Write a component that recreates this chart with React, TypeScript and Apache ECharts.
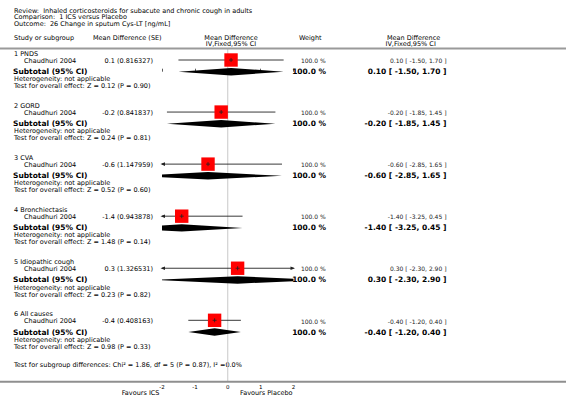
import React, { useEffect, useRef } from "react";
import * as echarts from "echarts";

// ---- data ----
const groups = ["1 PNDS", "2 GORD", "3 CVA", "4 Bronchiectasis", "5 Idiopathic cough", "6 All causes"];
const studies = ["Chaudhuri 2004", "Chaudhuri 2004", "Chaudhuri 2004", "Chaudhuri 2004", "Chaudhuri 2004", "Chaudhuri 2004"];
const meanDiff = [0.1, -0.2, -0.6, -1.4, 0.3, -0.4];
const seValues = ["0.816327", "0.841837", "1.147959", "0.943878", "1.326531", "0.408163"];
const ciLow = [-1.5, -1.85, -2.85, -3.25, -2.3, -1.2];
const ciHigh = [1.7, 1.45, 1.65, 0.45, 2.9, 0.4];
const weights = [100, 100, 100, 100, 100, 100];
const zValues = ["0.12", "0.24", "0.52", "1.48", "0.23", "0.98"];
const pValues = ["0.90", "0.81", "0.60", "0.14", "0.82", "0.33"];
const xTicks = [-2, -1, 0, 1, 2];
const titleLines = [
  "Review:  Inhaled corticosteroids for subacute and chronic cough in adults",
  "Comparison:  1 ICS versus Placebo",
  "Outcome:  26 Change in sputum Cys-LT [ng/mL]",
];
const subgroupTest = "Test for subgroup differences: Chi\u00b2 = 1.86, df = 5 (P = 0.87), I\u00b2 =0.0%";

const X_MIN = xTicks[0];
const X_MAX = xTicks[xTicks.length - 1];
const FONT = "DejaVu Sans";
const W = 566;
const H = 405;

function txt(text: string, x: number, y: number, size: number, opts: any = {}) {
  return {
    type: "text",
    x,
    y,
    silent: true,
    style: {
      text,
      fontFamily: FONT,
      fontSize: size,
      lineHeight: size,
      fontWeight: opts.bold ? "bold" : "normal",
      fill: opts.fill || "#000",
      align: opts.align || "left",
      verticalAlign: "middle",
    },
  };
}

function renderItem(params: any, api: any) {
  const idx = api.value(1);
  const md = api.value(0);
  const lo = api.value(2);
  const hi = api.value(3);
  const [cx, cy] = api.coord([md, idx]);
  const minP = api.coord([X_MIN, idx])[0];
  const maxP = api.coord([X_MAX, idx])[0];
  const loRaw = api.coord([lo, idx])[0];
  const hiRaw = api.coord([hi, idx])[0];
  const loP = Math.max(loRaw, minP);
  const hiP = Math.min(hiRaw, maxP);
  const sy = cy - 11.7;
  const children: any[] = [];

  // texts
  children.push(txt(groups[idx], 14, cy - 17.7, 6.5));
  children.push(txt(studies[idx], 24, cy - 11, 6.5));
  children.push(txt(`${md} (${seValues[idx]})`, 153, cy - 11, 6.5, { align: "right" }));
  children.push(txt("Subtotal (95% CI)", 13, cy, 7.5, { bold: true }));
  children.push(txt("Heterogeneity: not applicable", 14, cy + 7.6, 6.5));
  children.push(txt(`Test for overall effect: Z = ${zValues[idx]} (P = ${pValues[idx]})`, 14, cy + 14.6, 6.5));
  const wStr = `${weights[idx].toFixed(1)} %`;
  const ciStr = `${md.toFixed(2)} [ ${lo.toFixed(2)}, ${hi.toFixed(2)} ]`;
  children.push(txt(wStr, 325.7, cy - 11, 6, { align: "right", fill: "#222" }));
  children.push(txt(ciStr, 446.5, cy - 11, 6, { align: "right", fill: "#222" }));
  children.push(txt(wStr, 326, cy, 7.5, { align: "right", bold: true }));
  children.push(txt(ciStr, 446.5, cy, 7.5, { align: "right", bold: true }));

  // CI line
  children.push({
    type: "line",
    silent: true,
    shape: { x1: loP, y1: sy, x2: hiP, y2: sy },
    style: { stroke: "#222", lineWidth: 0.9 },
  });
  if (loRaw < minP) {
    children.push({
      type: "polygon",
      silent: true,
      shape: { points: [[minP - 1.5, sy], [minP + 3, sy - 1.8], [minP + 3, sy + 1.8]] },
      style: { fill: "#222" },
    });
  }
  if (hiRaw > maxP) {
    children.push({
      type: "polygon",
      silent: true,
      shape: { points: [[maxP + 1.5, sy], [maxP - 3, sy - 1.8], [maxP - 3, sy + 1.8]] },
      style: { fill: "#222" },
    });
  }
  // square
  const s = 13.4;
  children.push({
    type: "rect",
    silent: true,
    shape: { x: cx - s / 2, y: sy - s / 2, width: s, height: s },
    style: { fill: "#ff0000" },
  });
  children.push({
    type: "line",
    silent: true,
    shape: { x1: cx, y1: sy - 2, x2: cx, y2: sy + 2 },
    style: { stroke: "#222", lineWidth: 0.8 },
  });
  children.push({
    type: "line",
    silent: true,
    shape: { x1: cx - 2, y1: sy, x2: cx + 2, y2: sy },
    style: { stroke: "#222", lineWidth: 0.8 },
  });

  // diamond
  const h = 3.7;
  const pts: number[][] = [];
  let tl = 0;
  if (loRaw < minP) {
    tl = (h * (minP - loRaw)) / (cx - loRaw);
    pts.push([minP, cy - tl]);
  } else pts.push([loRaw, cy]);
  pts.push([cx, cy - h]);
  if (hiRaw > maxP) {
    const tr = (h * (hiRaw - maxP)) / (hiRaw - cx);
    pts.push([maxP, cy - tr]);
    pts.push([maxP, cy + tr]);
  } else pts.push([hiRaw, cy]);
  pts.push([cx, cy + h]);
  if (loRaw < minP) pts.push([minP, cy + tl]);
  children.push({
    type: "polygon",
    silent: true,
    shape: { points: pts },
    style: { fill: "#000" },
  });

  return { type: "group", children };
}

export default function App() {
  const ref = useRef<HTMLDivElement>(null);
  useEffect(() => {
    if (!ref.current) return;
    const chart = echarts.init(ref.current, null, { renderer: "svg" });
    const gridTop = 48;
    const gridBottomY = 381.7;
    const unit = 52.06;
    const yMin = -(71.7 - gridTop) / unit;
    const yMax = yMin + (gridBottomY - gridTop) / unit;
    const data = meanDiff.map((m, i) => [m, i, ciLow[i], ciHigh[i]]);

    const graphics: any[] = [];
    titleLines.forEach((t, i) => graphics.push(txt(t, 14, [10.8, 17.4, 24][i], 6.5)));
    graphics.push(txt("Study or subgroup", 14, 38, 6.5));
    graphics.push(txt("Mean Difference (SE)", 93, 38, 6.5));
    graphics.push(txt("Mean Difference", 231, 37.7, 6.5, { align: "center" }));
    graphics.push(txt("IV,Fixed,95% CI", 231, 44.3, 6.5, { align: "center" }));
    graphics.push(txt("Weight", 299, 38, 6.5));
    graphics.push(txt("Mean Difference", 387, 37.7, 6.5));
    graphics.push(txt("IV,Fixed,95% CI", 385.5, 44.3, 6.5));
    graphics.push({
      type: "line",
      silent: true,
      z: 10,
      shape: { x1: 0, y1: 48.5, x2: W, y2: 48.5 },
      style: { stroke: "#9a9a9a", lineWidth: 2 },
    });
    graphics.push(txt(subgroupTest, 14, 365, 6.5));
    graphics.push({
      type: "line",
      silent: true,
      z: 10,
      shape: { x1: 0, y1: gridBottomY, x2: W, y2: gridBottomY },
      style: { stroke: "#8f8f8f", lineWidth: 2 },
    });
    graphics.push(txt("Favours ICS", 159.5, 392.7, 6.5, { align: "right" }));
    graphics.push(txt("Favours Placebo", 240, 392.7, 6.5));

    chart.setOption({
      animation: false,
      grid: { left: 162, right: W - 293.5, top: gridTop, bottom: H - gridBottomY, containLabel: false },
      xAxis: {
        type: "value",
        min: X_MIN,
        max: X_MAX,
        interval: 1,
        axisLine: { show: false },
        axisTick: { show: true, inside: true, length: 3, lineStyle: { color: "#333", width: 0.8 } },
        axisLabel: { fontSize: 5.5, fontFamily: FONT, color: "#000", margin: 2 },
        splitLine: { show: false },
      },
      yAxis: {
        type: "value",
        inverse: true,
        min: yMin,
        max: yMax,
        show: false,
        splitLine: { show: false },
      },
      graphic: graphics,
      series: [
        {
          type: "line",
          data: [[0, yMin], [0, yMax]],
          symbol: "none",
          silent: true,
          lineStyle: { color: "#c8c8c8", width: 1 },
          z: 1,
        },
        {
          type: "custom",
          data,
          renderItem,
          clip: false,
          silent: true,
          z: 2,
        },
      ],
    });
    return () => chart.dispose();
  }, []);
  return <div ref={ref} style={{ width: W, height: H, position: "absolute", left: 0, top: 0 }} />;
}
